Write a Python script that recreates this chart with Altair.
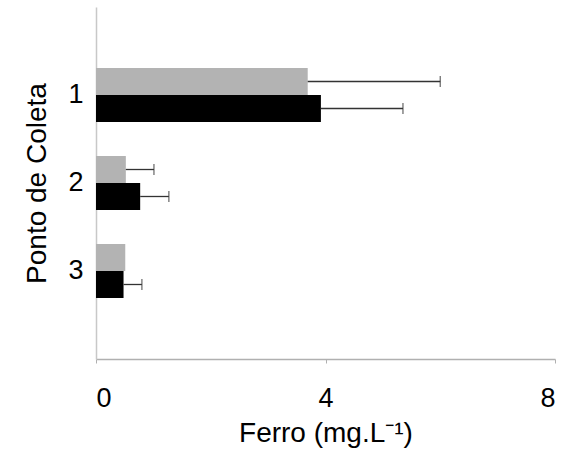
import altair as alt
import pandas as pd

pontos = ["1", "2", "3"]
serie_cinza = [3.69, 0.52, 0.51]
erro_cinza = [2.31, 0.49, 0.0]
serie_preta = [3.92, 0.77, 0.48]
erro_preta = [1.43, 0.50, 0.32]
series = ["A", "B"]
cores = ["#b3b3b3", "#000000"]

rows = []
for i, p in enumerate(pontos):
    rows.append({"ponto": p, "serie": "A", "valor": serie_cinza[i], "erro": erro_cinza[i]})
    rows.append({"ponto": p, "serie": "B", "valor": serie_preta[i], "erro": erro_preta[i]})
df = pd.DataFrame(rows)
df["fim"] = df["valor"] + df["erro"]

FONT = "Liberation Sans"

y = alt.Y("ponto:N", sort=pontos,
          scale=alt.Scale(paddingInner=0, paddingOuter=0.5),
          axis=alt.Axis(title="Ponto de Coleta", titleFontSize=28, titleFontWeight="normal",
                        titleFont=FONT, titleColor="#000", labelFont=FONT, labelFontSize=27,
                        labelColor="#000", labelPadding=13, titlePadding=16, ticks=False,
                        domainColor="#c8c8c8", domainWidth=1.5, labelAngle=0))
yoff = alt.YOffset("serie:N", sort=series, scale=alt.Scale(paddingInner=0, paddingOuter=0.63))
x = alt.X("valor:Q", scale=alt.Scale(domain=[0, 8]),
          axis=alt.Axis(values=[0, 4, 8], title="Ferro (mg.L⁻¹)", titleFontSize=28,
                        titleFontWeight="normal", titleFont=FONT, titleColor="#000",
                        labelFont=FONT, labelFontSize=27, labelColor="#000",
                        labelPadding=22, titlePadding=8, tickSize=4, tickColor="#b0b0b0",
                        domainColor="#b0b0b0", domainWidth=1.5, grid=False, format="d"))

base = alt.Chart(df)
bars = base.mark_bar(stroke=None).encode(
    x=x, y=y, yOffset=yoff,
    color=alt.Color("serie:N", scale=alt.Scale(domain=series, range=cores), legend=None),
)
err = base.transform_filter("datum.erro > 0").mark_rule(color="#333333", strokeWidth=1.3).encode(
    x="valor:Q", x2="fim:Q", y=y, yOffset=yoff)
cap = base.transform_filter("datum.erro > 0").mark_tick(color="#333333", thickness=1.3, size=11).encode(
    x="fim:Q", y=y, yOffset=yoff)

chart = (bars + err + cap).properties(
    width=459, height=352,
    padding={"left": 96, "top": 7, "right": 30, "bottom": 99},
    autosize=alt.AutoSizeParams(type="none"),
).configure_view(stroke=None)

chart.save("out.html", embed_options={"renderer": "svg", "actions": False})
